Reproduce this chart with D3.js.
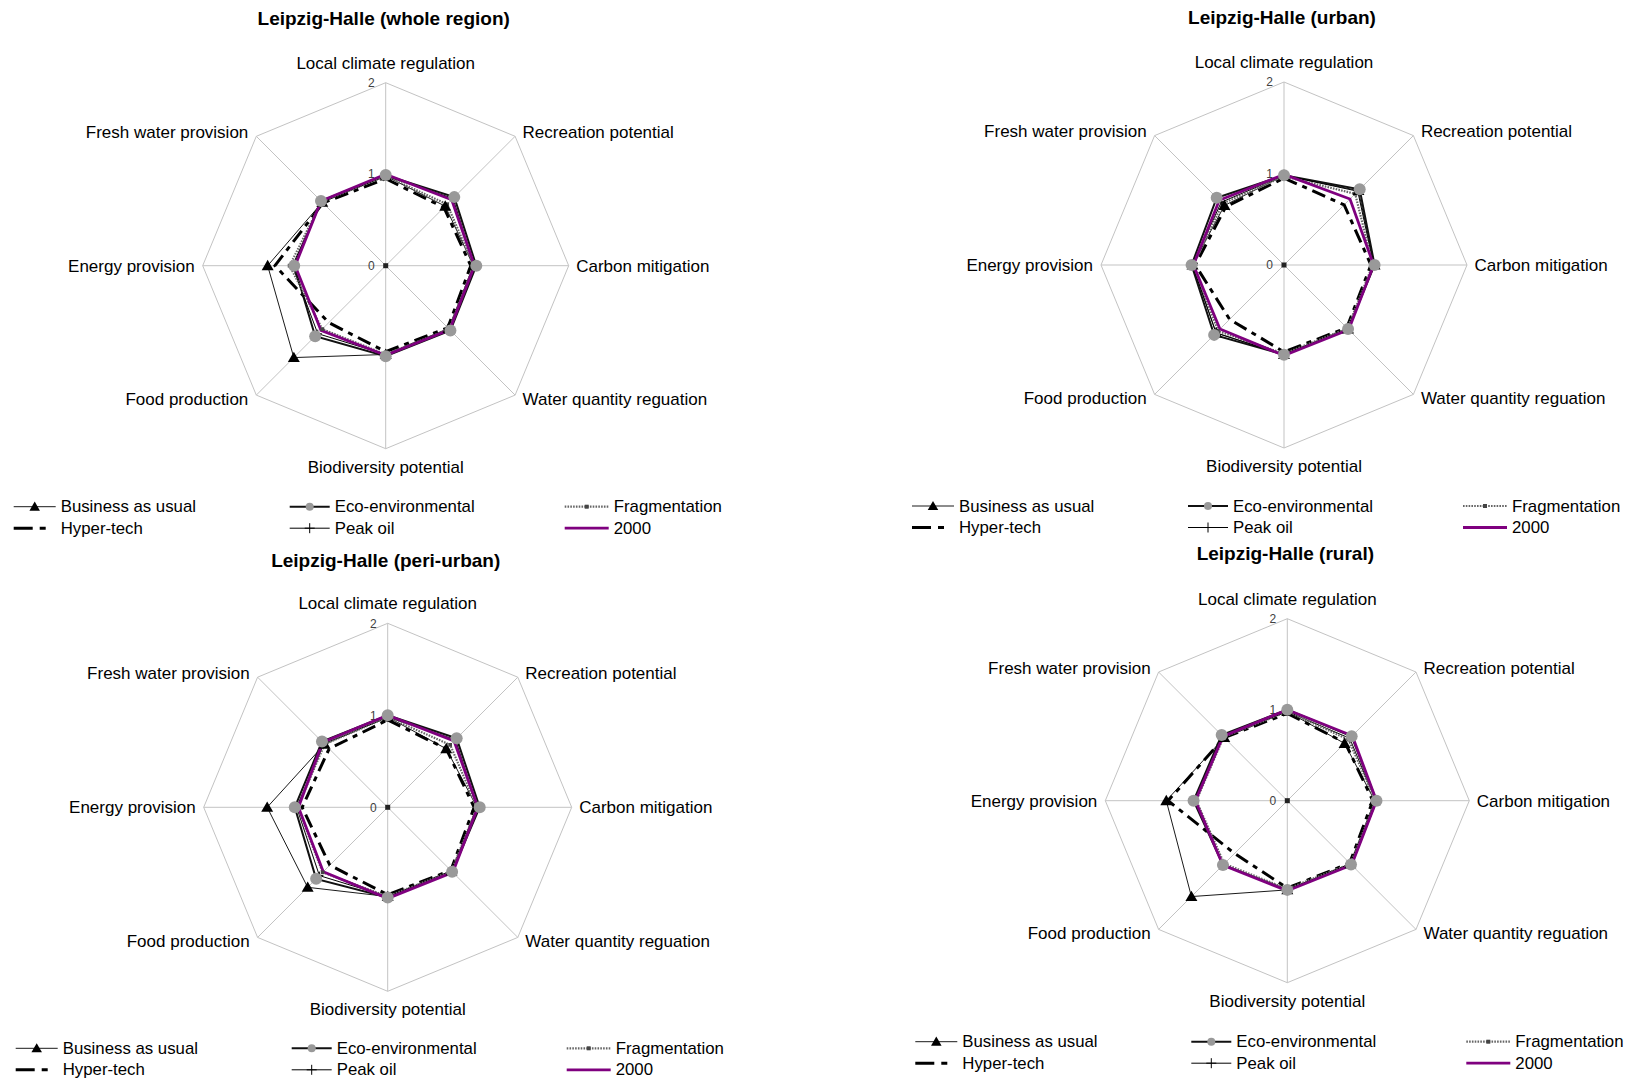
<!DOCTYPE html>
<html>
<head>
<meta charset="utf-8">
<script src="https://cdn.jsdelivr.net/npm/d3@7"></script>
<style>
  html, body { margin: 0; padding: 0; background: #fff; }
  svg { display: block; font-family: "Liberation Sans", Arial, sans-serif; }
</style>
</head>
<body>
<svg id="chart" width="1627" height="1080"></svg>
<script>
// Ecosystem service axes, clockwise from the top
const categories = [
  "Local climate regulation",
  "Recreation potential",
  "Carbon mitigation",
  "Water quantity reguation",
  "Biodiversity potential",
  "Food production",
  "Energy provision",
  "Fresh water provision"
];

const seriesNames = ["Business as usual", "Hyper-tech", "Eco-environmental", "Fragmentation", "Peak oil", "2000"];
const tickLabels = [0, 1, 2];

// Values per region: one row per scenario, in seriesNames order
const wholeRegion = [
  [0.98, 0.92, 0.96, 0.97, 0.97, 1.42, 1.29, 0.98],
  [0.95, 0.90, 0.93, 0.96, 0.94, 0.88, 1.21, 0.97],
  [0.99, 1.06, 0.99, 1.00, 0.99, 1.09, 1.00, 1.00],
  [0.98, 0.95, 0.96, 0.98, 0.97, 0.98, 1.05, 0.99],
  [0.98, 1.04, 0.97, 0.98, 0.97, 1.05, 1.02, 0.99],
  [1.00, 1.02, 0.97, 0.99, 0.98, 1.00, 0.99, 1.00]
];
const urban = [
  [0.98, 1.15, 0.99, 0.99, 0.98, 1.05, 1.00, 0.92],
  [0.95, 0.93, 0.95, 0.97, 0.95, 0.84, 0.97, 0.90],
  [0.98, 1.17, 0.99, 0.99, 0.98, 1.08, 1.01, 1.04],
  [0.97, 1.10, 0.97, 0.98, 0.97, 1.02, 0.99, 0.95],
  [0.98, 1.14, 0.98, 0.99, 0.98, 1.05, 1.00, 0.97],
  [0.99, 1.02, 0.98, 1.00, 0.99, 0.99, 0.99, 1.00]
];
const periUrban = [
  [0.98, 0.90, 0.97, 0.98, 0.97, 1.23, 1.31, 0.97],
  [0.95, 0.90, 0.94, 0.97, 0.95, 0.89, 0.93, 0.90],
  [1.00, 1.06, 1.00, 0.99, 0.98, 1.10, 1.01, 1.01],
  [0.98, 0.96, 0.97, 0.98, 0.97, 1.00, 0.98, 0.97],
  [0.98, 1.04, 0.98, 0.98, 0.97, 1.05, 0.99, 0.98],
  [1.00, 1.02, 0.98, 1.00, 0.99, 0.99, 0.97, 1.00]
];
const rural = [
  [0.98, 0.89, 0.96, 0.98, 0.98, 1.49, 1.33, 0.98],
  [0.96, 0.90, 0.94, 0.97, 0.96, 0.82, 1.31, 0.98],
  [1.00, 1.00, 0.98, 0.99, 0.98, 1.00, 1.03, 1.02],
  [0.98, 0.95, 0.97, 0.98, 0.97, 0.98, 1.00, 0.99],
  [0.98, 0.97, 0.97, 0.98, 0.98, 1.00, 1.02, 1.00],
  [1.00, 1.01, 0.98, 1.00, 0.99, 1.00, 1.01, 1.00]
];

const panelTitles = [
  "Leipzig-Halle (whole region)",
  "Leipzig-Halle (urban)",
  "Leipzig-Halle (peri-urban)",
  "Leipzig-Halle (rural)"
];
const panelData = [wholeRegion, urban, periUrban, rural];

// Panel placement (centre of each radar and its outer radius)
const panels = [
  { cx: 385.7, cy: 265.7, R: 183 },
  { cx: 1284, cy: 265, R: 183 },
  { cx: 387.7, cy: 807.3, R: 184 },
  { cx: 1287.3, cy: 800.7, R: 182 }
];

// Line and marker styling for each scenario
const styles = [
  { stroke: "#1a1a1a", width: 1, dash: null, marker: "triangle" },
  { stroke: "#000", width: 3, dash: "14,6,5,6", marker: null },
  { stroke: "#111", width: 2, dash: null, marker: "circle" },
  { stroke: "#666", width: 2.2, dash: "1.6,1.2", marker: "square" },
  { stroke: "#000", width: 1, dash: null, marker: "plus" },
  { stroke: "#7f007f", width: 2.8, dash: null, marker: null }
];

const svg = d3.select("#chart");
const n = categories.length;
const step = 2 * Math.PI / n;

function markerPath(type, size) {
  if (type === "triangle") return d3.symbol(d3.symbolTriangle, size)();
  if (type === "square") return d3.symbol(d3.symbolSquare, size)();
  return null;
}

function drawMarker(g, type, x, y, big) {
  if (type === "triangle") {
    g.append("path").attr("d", markerPath("triangle", big ? 62 : 48))
      .attr("transform", `translate(${x},${y + 1})`).attr("fill", "#000");
  } else if (type === "circle") {
    g.append("circle").attr("cx", x).attr("cy", y).attr("r", big ? 6 : 4)
      .attr("fill", "#999");
  } else if (type === "square") {
    g.append("path").attr("d", markerPath("square", big ? 14 : 16))
      .attr("transform", `translate(${x},${y})`).attr("fill", "#444");
  } else if (type === "plus") {
    const s = big ? 4 : 5;
    g.append("path").attr("d", `M${x - s},${y}H${x + s}M${x},${y - s}V${y + s}`)
      .attr("stroke", "#000").attr("stroke-width", 1).attr("fill", "none");
  }
}

panels.forEach((p, pi) => {
  const g = svg.append("g").attr("transform", `translate(${p.cx},${p.cy})`);
  const r = d3.scaleLinear().domain([0, 2]).range([0, p.R]);
  const angle = i => i * step;
  const px = (i, v) => r(v) * Math.sin(angle(i));
  const py = (i, v) => -r(v) * Math.cos(angle(i));

  // Outer frame and spokes
  const frame = d3.lineRadial().angle((d, i) => angle(i)).radius(() => r(2)).curve(d3.curveLinearClosed);
  g.append("path").attr("d", frame(categories)).attr("fill", "none")
    .attr("stroke", "#c3c3c3").attr("stroke-width", 1);
  categories.forEach((c, i) => {
    g.append("line").attr("x1", 0).attr("y1", 0)
      .attr("x2", px(i, 2)).attr("y2", py(i, 2))
      .attr("stroke", "#c3c3c3").attr("stroke-width", 1);
  });

  // Scale labels on the top spoke
  tickLabels.forEach(t => {
    g.append("text").attr("x", -11).attr("y", -r(t) + 4.2)
      .attr("text-anchor", "end").attr("font-size", 12).attr("fill", "#404040")
      .text(t);
  });

  // Axis labels
  categories.forEach((c, i) => {
    const x = px(i, 2), y = py(i, 2);
    const t = g.append("text").attr("font-size", 17).attr("fill", "#000").text(c);
    const sx = Math.round(Math.sin(angle(i)) * 1000) / 1000;
    const cy = Math.round(Math.cos(angle(i)) * 1000) / 1000;
    if (Math.abs(sx) < 0.01) {
      t.attr("text-anchor", "middle").attr("x", x).attr("y", cy > 0 ? y - 14 : y + 24);
    } else {
      t.attr("text-anchor", sx > 0 ? "start" : "end")
        .attr("x", x + (sx > 0 ? 7.5 : -8))
        .attr("y", Math.abs(cy) < 0.01 ? y + 6 : (cy > 0 ? y + 1.5 : y + 9.5));
    }
  });

  // Scenario polygons
  const rows = panelData[pi];
  const radial = d3.lineRadial().angle((d, i) => angle(i)).radius(d => r(d)).curve(d3.curveLinearClosed);
  const drawOrder = [0, 1, 2, 4, 3, 5];
  drawOrder.forEach(si => {
    const st = styles[si];
    g.append("path").attr("d", radial(rows[si])).attr("fill", "none")
      .attr("stroke", st.stroke).attr("stroke-width", st.width)
      .attr("stroke-dasharray", st.dash).attr("stroke-linejoin", "miter");
  });
  [3, 4, 0, 2].forEach(si => {
    rows[si].forEach((v, i) => drawMarker(g, styles[si].marker, px(i, v), py(i, v), true));
  });

  // Centre marker
  g.append("rect").attr("x", -2.5).attr("y", -2.5).attr("width", 5).attr("height", 5).attr("fill", "#222");

  // Title
  g.append("text").attr("x", -2).attr("y", -240.7).attr("text-anchor", "middle")
    .attr("font-size", 19).attr("font-weight", "bold").attr("fill", "#000")
    .text(panelTitles[pi]);

  // Legend: three columns, two rows
  const cols = [-372, -96, 179];
  const lineLen = [42, 40, 44];
  const rowsY = [241, 262.5];
  seriesNames.forEach((name, si) => {
    const colIdx = [0, 0, 1, 2, 1, 2][si];
    const rowIdx = [0, 1, 0, 0, 1, 1][si];
    const x0 = cols[colIdx], x1 = x0 + lineLen[colIdx], y = rowsY[rowIdx];
    const st = styles[si];
    let dash = st.dash;
    if (si === 1) dash = "19,7,6,20";
    g.append("line").attr("x1", x0).attr("x2", x1).attr("y1", y).attr("y2", y)
      .attr("stroke", st.stroke).attr("stroke-width", si === 1 ? 3 : (si === 2 ? 2 : st.width))
      .attr("stroke-dasharray", dash);
    if (st.marker) drawMarker(g, st.marker, (x0 + x1) / 2, y, false);
    g.append("text")
      .attr("transform", `translate(${x1 + 5},${y + 5.5}) scale(1.05,1)`)
      .attr("font-size", 16).attr("fill", "#000").text(name);
  });
});
</script>
</body>
</html>
